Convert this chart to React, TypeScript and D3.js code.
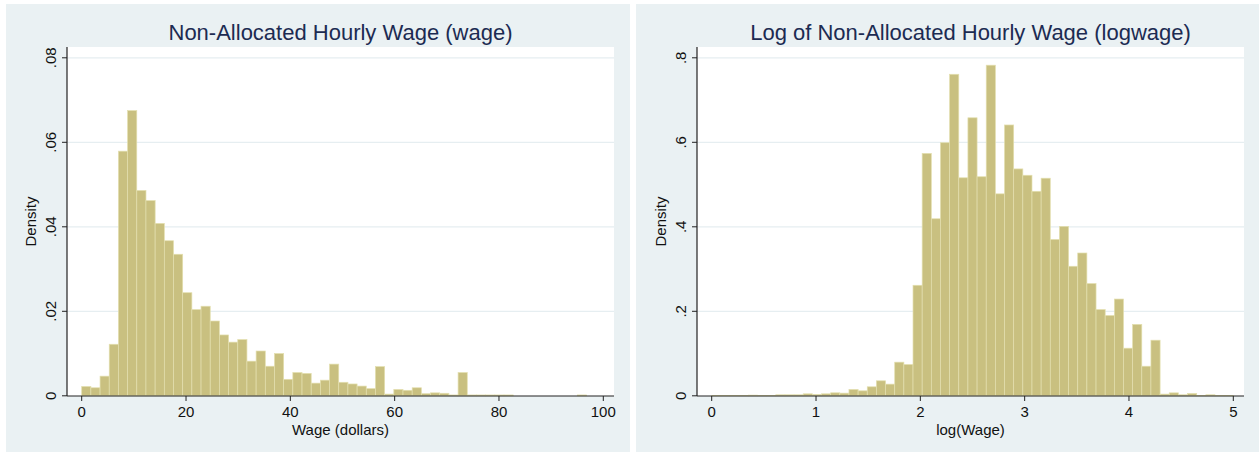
import React from "react";
import * as d3 from "d3";

// ---- Data: histogram densities ----
const wageBinStart = 0;
const wageBinWidth = 1.76;
const wageDensity = [
  0.0022, 0.0019, 0.00465, 0.0122, 0.0579, 0.0675, 0.0486, 0.0462, 0.0408, 0.0367,
  0.0335, 0.0244, 0.0204, 0.0212, 0.0177, 0.0144, 0.0127, 0.0133, 0.0082, 0.0106,
  0.007, 0.01, 0.0039, 0.0055, 0.0053, 0.003, 0.0037, 0.0075, 0.0032, 0.0028,
  0.0023, 0.0017, 0.0069, 0.0004, 0.0015, 0.0013, 0.0019, 0.0005, 0.0007, 0.0006,
  0.0002, 0.0055, 0.0002, 0.0002, 0.0002, 0.0002, 0.0002, 0, 0, 0,
  0, 0, 0, 0, 0.0002,
];

const logBinStart = 0;
const logBinWidth = 5 / 57;
const logwageDensity = [
  0.0008, 0.0008, 0.0008, 0.0004, 0.0016, 0.0008, 0.0008, 0.0024, 0.0024, 0.0024,
  0.0047, 0.0032, 0.0047, 0.0071, 0.0063, 0.015, 0.0118, 0.0213, 0.0355, 0.0276,
  0.0796, 0.074, 0.2616, 0.5737, 0.419, 0.599, 0.761, 0.516, 0.658, 0.5185,
  0.7825, 0.478, 0.641, 0.537, 0.522, 0.484, 0.515, 0.37, 0.401, 0.3066,
  0.338, 0.2656, 0.204, 0.19, 0.229, 0.1127, 0.169, 0.07, 0.1316, 0.004,
  0.007, 0.0024, 0.0055, 0.001, 0.0024, 0.001, 0.001,
];

const wageXTicks = [0, 20, 40, 60, 80, 100];
const wageYTicks = [0, 0.02, 0.04, 0.06, 0.08];
const wageYTickLabels = ["0", ".02", ".04", ".06", ".08"];

const logXTicks = [0, 1, 2, 3, 4, 5];
const logYTicks = [0, 0.2, 0.4, 0.6, 0.8];
const logYTickLabels = ["0", ".2", ".4", ".6", ".8"];

const titles = [
  "Non-Allocated Hourly Wage (wage)",
  "Log of Non-Allocated Hourly Wage (logwage)",
];
const xLabels = ["Wage (dollars)", "log(Wage)"];
const yLabel = "Density";

// ---- Styling ----
const BG = "#eaf1f3";
const GRID = "#e6eef1";
const BAR_FILL = "#c9c080";
const BAR_STROKE = "#e3dfae";
const TITLE_COLOR = "#1c2b52";
const FONT = "'Liberation Sans', Arial, Helvetica, sans-serif";

type PanelProps = {
  left: number;
  title: string;
  xLabel: string;
  data: number[];
  binStart: number;
  binWidth: number;
  xTicks: number[];
  yTicks: number[];
  yTickLabels: string[];
};

function Panel(p: PanelProps) {
  const panelW = 624;
  const top = 4;
  const bottom = 452;
  const plotL = 61;
  const plotR = 608;
  const plotT = 43;
  const plotB = 392;
  const x = d3
    .scaleLinear()
    .domain([p.xTicks[0], p.xTicks[p.xTicks.length - 1]])
    .range([75.7, 597.3]);
  const y = d3
    .scaleLinear()
    .domain([p.yTicks[0], p.yTicks[p.yTicks.length - 1]])
    .range([391.8, 53.8]);
  const cx = (plotL + plotR) / 2;
  return (
    <g transform={`translate(${p.left},${top})`}>
      <rect x={0} y={0} width={panelW} height={bottom - top} fill={BG} />
      <rect x={plotL} y={plotT} width={plotR - plotL} height={plotB - plotT} fill="#ffffff" />
      {p.yTicks.slice(1).map((t, i) => (
        <line key={"g" + i} x1={plotL} x2={plotR} y1={y(t)} y2={y(t)} stroke={GRID} strokeWidth={1.3} />
      ))}
      {p.data.map((d, i) => {
        const x0 = x(p.binStart + i * p.binWidth);
        const x1 = x(p.binStart + (i + 1) * p.binWidth);
        const yt = y(d);
        return (
          <rect
            key={"b" + i}
            x={x0}
            y={yt}
            width={x1 - x0}
            height={Math.max(0, y(0) - yt)}
            fill={BAR_FILL}
            stroke={BAR_STROKE}
            strokeWidth={0.7}
          />
        );
      })}
      {/* y axis */}
      <line x1={plotL} x2={plotL} y1={plotT} y2={plotB} stroke="#222" strokeWidth={1.2} />
      {p.yTicks.map((t, i) => (
        <g key={"yt" + i}>
          <line x1={plotL - 5} x2={plotL} y1={y(t)} y2={y(t)} stroke="#222" strokeWidth={1} />
          <text
            transform={`translate(${plotL - 11},${y(t)}) rotate(-90)`}
            textAnchor="middle"
            fontFamily={FONT}
            fontSize={15}
            fill="#111"
          >
            {p.yTickLabels[i]}
          </text>
        </g>
      ))}
      <text
        transform={`translate(${plotL - 31},${(plotT + plotB) / 2}) rotate(-90)`}
        textAnchor="middle"
        fontFamily={FONT}
        fontSize={15}
        fill="#111"
      >
        {yLabel}
      </text>
      {/* x axis */}
      <line x1={plotL} x2={plotR} y1={plotB} y2={plotB} stroke="#222" strokeWidth={1.2} />
      {p.xTicks.map((t, i) => (
        <g key={"xt" + i}>
          <line x1={x(t)} x2={x(t)} y1={plotB} y2={plotB + 5} stroke="#222" strokeWidth={1} />
          <text x={x(t)} y={plotB + 21} textAnchor="middle" fontFamily={FONT} fontSize={15} fill="#111">
            {t}
          </text>
        </g>
      ))}
      <text x={cx} y={plotB + 39} textAnchor="middle" fontFamily={FONT} fontSize={15} fill="#111">
        {p.xLabel}
      </text>
      <text x={cx} y={36} textAnchor="middle" fontFamily={FONT} fontSize={22} fill={TITLE_COLOR}>
        {p.title}
      </text>
    </g>
  );
}

export default function App() {
  return (
    <svg
      width={1259}
      height={456}
      style={{ position: "absolute", left: 0, top: 0, background: "#ffffff" }}
    >
      <Panel
        left={6}
        title={titles[0]}
        xLabel={xLabels[0]}
        data={wageDensity}
        binStart={wageBinStart}
        binWidth={wageBinWidth}
        xTicks={wageXTicks}
        yTicks={wageYTicks}
        yTickLabels={wageYTickLabels}
      />
      <Panel
        left={636}
        title={titles[1]}
        xLabel={xLabels[1]}
        data={logwageDensity}
        binStart={logBinStart}
        binWidth={logBinWidth}
        xTicks={logXTicks}
        yTicks={logYTicks}
        yTickLabels={logYTickLabels}
      />
    </svg>
  );
}
